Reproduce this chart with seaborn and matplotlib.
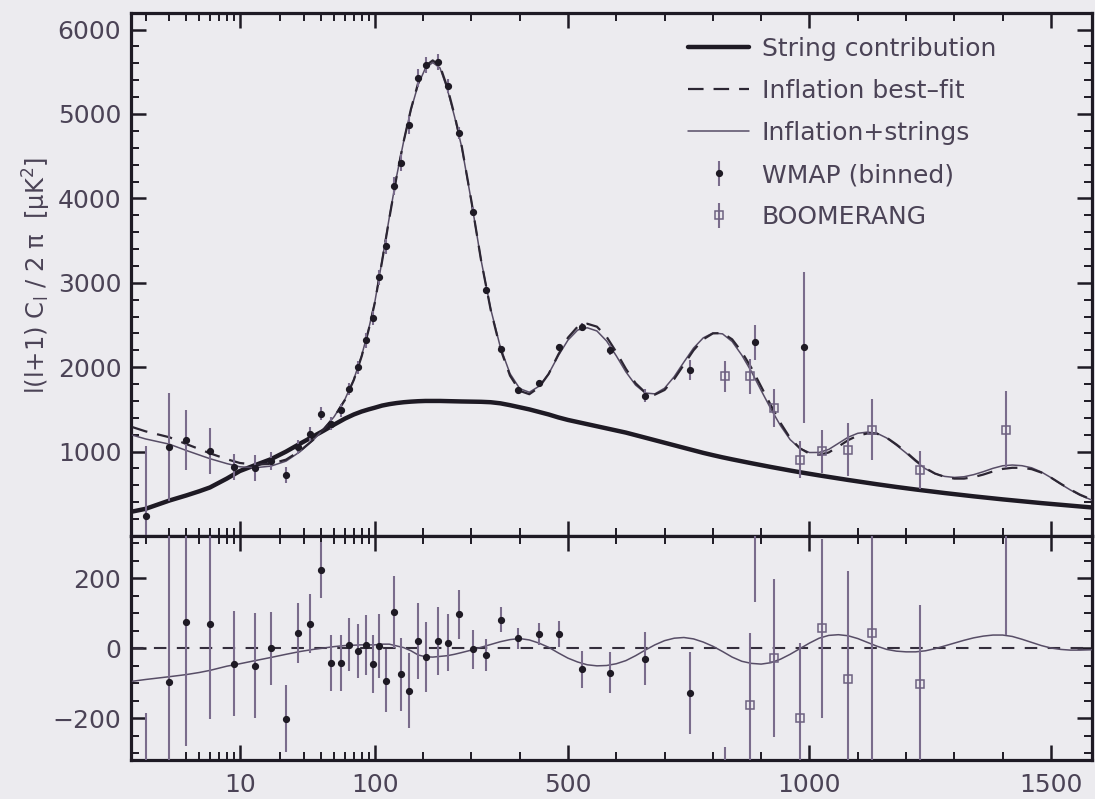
import numpy as np
import pandas as pd
import matplotlib
matplotlib.use("Agg")
import matplotlib.pyplot as plt
import seaborn as sns
from matplotlib.ticker import FixedLocator, NullFormatter
from matplotlib.lines import Line2D

# ---------------------------------------------------------------- data
# WMAP binned band powers, l(l+1)C_l/2pi [uK^2]
wmap_l = [2, 3, 4, 6, 9, 13, 17, 22, 27, 33, 40, 47, 56, 64, 75, 86, 97, 109,
          123, 140, 154, 171, 189, 206, 230, 251, 275, 303, 331, 362, 397,
          439, 482, 530, 588, 660, 752, 888, 988]
wmap_dl = [234, 1056, 1134, 1004, 819, 807, 885, 720, 1056, 1210, 1450, 1330,
           1489, 1742, 2002, 2317, 2582, 3065, 3430, 4148, 4424, 4870, 5423,
           5580, 5619, 5330, 4772, 3844, 2909, 2215, 1725, 1813, 2239, 2476,
           2199, 1663, 1970, 2294, 2234]
wmap_err = [829, 640, 355, 272, 150, 150, 105, 95, 86, 83, 80, 80, 80, 76, 77,
            85, 83, 92, 90, 102, 104, 107, 109, 100, 97, 82, 69, 55, 45, 35,
            30, 31, 38, 52, 59, 76, 118, 207, 897]
wmap_resid = [-1014, -97, 75, 68, -45, -50, -1, -202, 43, 70, 223, -44, -42, 9,
              -8, 9, -45, 6, -93, 103, -75, -122, 21, -25, 21, 15, 96, -4, -20,
              81, 28, 40, 40, -61, -70, -31, -129, 338, 1230]

# BOOMERANG band powers
boom_l = [826, 876, 926, 981, 1026, 1079, 1130, 1229, 1407]
boom_dl = [1891, 1891, 1520, 905, 1004, 1024, 1260, 787, 1260]
boom_err = [187, 205, 225, 215, 255, 310, 365, 225, 454]
boom_resid = [-470, -162, -29, -200, 56, -89, 42, -102, 490]

# model spectra sampled in l
model_l = [1.6, 2, 3, 4, 5, 6, 8, 10, 13, 17, 22, 28, 35, 42, 50, 60, 70, 80, 90, 100,
           115, 130, 145, 160, 175, 190, 205, 220, 235, 250,
           265, 280, 300, 320, 340, 360, 380, 400, 420, 440,
           460, 480, 500, 520, 540, 560, 580, 600, 620, 640,
           660, 680, 700, 720, 740, 760, 780, 800, 820, 840,
           860, 880, 900, 920, 940, 960, 980, 1000, 1020, 1040,
           1060, 1080, 1100, 1120, 1140, 1160, 1180, 1200, 1220, 1240,
           1260, 1280, 1300, 1320, 1340, 1360, 1380, 1400, 1420, 1440,
           1460, 1480, 1500, 1520, 1540, 1560, 1585]
inflation_bestfit = [1290, 1240, 1170, 1090, 1030, 980, 910, 865, 845, 855, 905, 1010, 1140, 1270, 1410, 1610, 1850, 2130, 2440, 2760,
                     3250, 3760, 4250, 4680, 5060, 5370, 5570, 5635, 5570, 5320,
                     4990, 4620, 3970, 3270, 2680, 2220, 1900, 1720, 1680, 1760,
                     1920, 2150, 2350, 2480, 2515, 2480, 2360, 2180, 1980, 1810,
                     1700, 1675, 1730, 1860, 2030, 2200, 2330, 2400, 2405, 2330,
                     2180, 1990, 1770, 1550, 1340, 1160, 1040, 975, 962, 990,
                     1060, 1135, 1190, 1215, 1212, 1165, 1085, 995, 895, 805,
                     740, 700, 680, 680, 698, 728, 765, 795, 808, 808,
                     792, 752, 692, 620, 552, 490, 430]
string_part = [290, 322, 420, 480, 530, 575, 680, 770, 840, 910, 1000, 1095, 1180, 1250, 1320, 1390, 1440, 1475, 1500, 1520,
               1545, 1562, 1575, 1585, 1592, 1597, 1600, 1600, 1600, 1598,
               1596, 1594, 1592, 1590, 1585, 1572, 1550, 1525, 1500, 1470,
               1440, 1405, 1375, 1350, 1325, 1300, 1275, 1250, 1225, 1195,
               1165, 1135, 1105, 1075, 1045, 1015, 985, 958, 932, 908,
               885, 862, 840, 818, 797, 776, 756, 737, 718, 700,
               682, 664, 647, 630, 613, 597, 581, 566, 551, 537,
               523, 509, 496, 483, 470, 458, 446, 434, 423, 412,
               401, 390, 380, 370, 360, 350, 338]
# (inflation + strings) - inflation best fit
strings_shift = [-95, -90, -82, -76, -70, -64, -52, -45, -36, -27, -18, -10, -4, 0, 4, 7, 8, 9, 9, 9,
                 11, 11, 6, 1, -8, -20, -25, -26, -24, -22,
                 -18, -13, -6, 2, 10, 18, 24, 27, 23, 14,
                 2, -14, -29, -40, -48, -51, -50, -45, -36, -22,
                 -6, 9, 21, 28, 30, 26, 17, 5, -10, -26,
                 -38, -44, -46, -42, -32, -18, -2, 14, 28, 36,
                 38, 35, 27, 16, 5, -4, -9, -11, -11, -8,
                 -2, 6, 14, 22, 29, 34, 37, 37, 33, 25,
                 16, 7, 0, -4, -6, -6, -5]

x_major = [10, 100, 500, 1000, 1500]
x_minor = [2, 3, 4, 5, 6, 7, 8, 9, 20, 30, 40, 50, 60, 70, 80, 90,
           200, 300, 400, 600, 700, 800, 900, 1100, 1200, 1300, 1400]

# ---------------------------------------------------------------- style
sns.set_theme(style="ticks")
plt.rcParams["font.family"] = ["DejaVu Sans"]
plt.rcParams["axes.unicode_minus"] = True

INK = "#1e1a24"
TEXT = "#4b4356"
BAR = "#7a6c8c"
THIN = "#574d66"
BG = "#ecebef"
FS = 18
DASH = (0, (7, 4.5))

models = pd.DataFrame({"l": model_l, "bestfit": inflation_bestfit,
                       "strings": string_part, "shift": strings_shift})
models["combined"] = models["bestfit"] + models["shift"]

# multipole axis: logarithmic below l = 100, linear above
L_BREAK = 100.0
LIN_SLOPE = 0.00358  # decades per unit of l above the break


def fwd(l):
    l = np.asarray(l, dtype=float)
    safe = np.clip(l, 1e-6, None)
    return np.where(l <= L_BREAK, np.log10(safe), 2.0 + (l - L_BREAK) * LIN_SLOPE)


def inv(u):
    u = np.asarray(u, dtype=float)
    return np.where(u <= 2.0, 10.0 ** np.clip(u, -10, 2.0),
                    L_BREAK + (u - 2.0) / LIN_SLOPE)


fig = plt.figure(figsize=(10.95, 7.99), dpi=100, facecolor=BG)
left, width = 131 / 1095, 961 / 1095
ax_top = fig.add_axes([left, (799 - 536) / 799, width, 523.3 / 799])
ax_bot = fig.add_axes([left, (799 - 760) / 799, width, 224 / 799])

for ax in (ax_top, ax_bot):
    ax.set_facecolor(BG)
    ax.set_xscale("function", functions=(fwd, inv))

# ---------------------------------------------------------------- top panel
sns.lineplot(data=models, x="l", y="strings", ax=ax_top, color=INK, lw=3.2,
             estimator=None, sort=False, zorder=3)
sns.lineplot(data=models, x="l", y="combined", ax=ax_top, color=THIN, lw=1.1,
             estimator=None, sort=False, zorder=3)
sns.lineplot(data=models, x="l", y="bestfit", ax=ax_top, color="#2c2633", lw=1.6,
             linestyle=DASH, estimator=None, sort=False, zorder=4)

eb_w = ax_top.errorbar(wmap_l, wmap_dl, yerr=wmap_err, fmt="o", ms=4.2,
                       mfc=INK, mec=INK, ecolor=BAR, elinewidth=1.5, capsize=0,
                       zorder=5)
eb_b = ax_top.errorbar(boom_l, boom_dl, yerr=boom_err, fmt="s", ms=6,
                       mfc="none", mec="#6d6180", mew=1.1, ecolor=BAR,
                       elinewidth=1.5, capsize=0, zorder=5)

ax_top.set_ylim(0, 6200)
ax_top.yaxis.set_major_locator(FixedLocator([1000, 2000, 3000, 4000, 5000, 6000]))
ax_top.yaxis.set_minor_locator(FixedLocator(list(range(0, 6201, 200))))

# ---------------------------------------------------------------- residual panel
ax_bot.axhline(0, color="#342e3c", lw=1.5, ls=(0, (6, 5)), zorder=2)
sns.lineplot(data=models, x="l", y="shift", ax=ax_bot, color=THIN, lw=1.1,
             estimator=None, sort=False, zorder=3)
ax_bot.errorbar(wmap_l, wmap_resid, yerr=wmap_err, fmt="o", ms=4.2,
                mfc=INK, mec=INK, ecolor=BAR, elinewidth=1.5, capsize=0, zorder=5)
ax_bot.errorbar(boom_l, boom_resid, yerr=boom_err, fmt="s", ms=6,
                mfc="none", mec="#6d6180", mew=1.1, ecolor=BAR,
                elinewidth=1.5, capsize=0, zorder=5)
ax_bot.set_ylim(-320, 320)
ax_bot.yaxis.set_major_locator(FixedLocator([-200, 0, 200]))
ax_bot.yaxis.set_minor_locator(FixedLocator(list(range(-300, 301, 50))))

# ---------------------------------------------------------------- axes cosmetics
for ax in (ax_top, ax_bot):
    ax.set_xlim(1.56, 1585)
    ax.xaxis.set_major_locator(FixedLocator(x_major))
    ax.xaxis.set_minor_locator(FixedLocator(x_minor))
    ax.xaxis.set_minor_formatter(NullFormatter())
    ax.set_xlabel("")
    ax.set_ylabel("")
    ax.tick_params(which="both", direction="in", top=True, right=True,
                   color=INK, labelcolor=TEXT, labelsize=FS)
    ax.tick_params(which="major", length=11, width=1.8)
    ax.tick_params(which="minor", length=5.5, width=1.4)
    ax.tick_params(axis="y", pad=7)
    ax.tick_params(axis="x", pad=9)
    for sp in ax.spines.values():
        sp.set_visible(True)
        sp.set_color(INK)
        sp.set_linewidth(2.3)

ax_top.tick_params(axis="x", labelbottom=False)
ax_bot.set_xticklabels([str(v) for v in x_major])

fig.text(37 / 1095, 1 - 275 / 799,
         r"l(l+1) C$_\mathregular{l}$ / 2 π  [μK$^\mathregular{2}$]",
         rotation=90, ha="center", va="center", fontsize=17.5, color=TEXT)

# ---------------------------------------------------------------- legend
handles = [
    Line2D([], [], color=INK, lw=3.2),
    Line2D([], [], color="#2c2633", lw=1.6, ls=DASH),
    Line2D([], [], color=THIN, lw=1.1),
    eb_w,
    eb_b,
]
labels = ["String contribution", "Inflation best\u2013fit", "Inflation+strings",
          "WMAP (binned)", "BOOMERANG"]
leg = ax_top.legend(handles, labels, loc="upper left",
                    bbox_to_anchor=(688 / 1095, 1 - 37 / 799),
                    bbox_transform=fig.transFigure, frameon=False,
                    fontsize=FS, handlelength=2.45, handletextpad=0.5,
                    labelspacing=0.72, borderpad=0, borderaxespad=0)
for t in leg.get_texts():
    t.set_color(TEXT)

fig.savefig("out.png", dpi=100, facecolor=BG)
